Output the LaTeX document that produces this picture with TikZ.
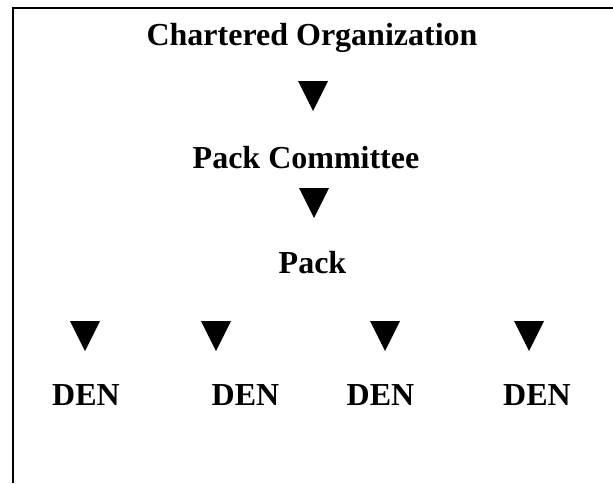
\documentclass[tikz,border=0pt]{standalone}
\usepackage{fontspec}
\setmainfont{Liberation Serif}
\usepackage{tikz}

\begin{document}
\begin{tikzpicture}[x = 1pt, y = -1pt,
   lbl/.style = {font=\fontsize{32}{38}\selectfont\bfseries, inner sep=0pt, anchor=base}]
   \useasboundingbox (0,0) rectangle (613,483);
   % frame
   \draw[line width=2pt] (613,7.5) -- (13,7.5) -- (13,483);
   % levels
   \node[lbl] (org) at (312,45) {Chartered Organization};
   \node[lbl] (committee) at (306,168) {Pack Committee};
   \node[lbl] (pack) at (312.5,273) {Pack};
   \node[lbl] (den1) at (86,405) {DEN};
   \node[lbl] (den2) at (245.5,405) {DEN};
   \node[lbl] (den3) at (380.5,405) {DEN};
   \node[lbl] (den4) at (537,405) {DEN};
   % triangles
   \fill[black] (298,81) -- (328,81) -- (313,111) -- cycle;
   \fill[black] (299,188) -- (329,188) -- (314,218) -- cycle;
   \fill[black] (70,321) -- (100,321) -- (85,351) -- cycle;
   \fill[black] (201,321) -- (231,321) -- (216,351) -- cycle;
   \fill[black] (370,321) -- (400,321) -- (385,351) -- cycle;
   \fill[black] (514,321) -- (544,321) -- (529,351) -- cycle;
\end{tikzpicture}
\end{document}
